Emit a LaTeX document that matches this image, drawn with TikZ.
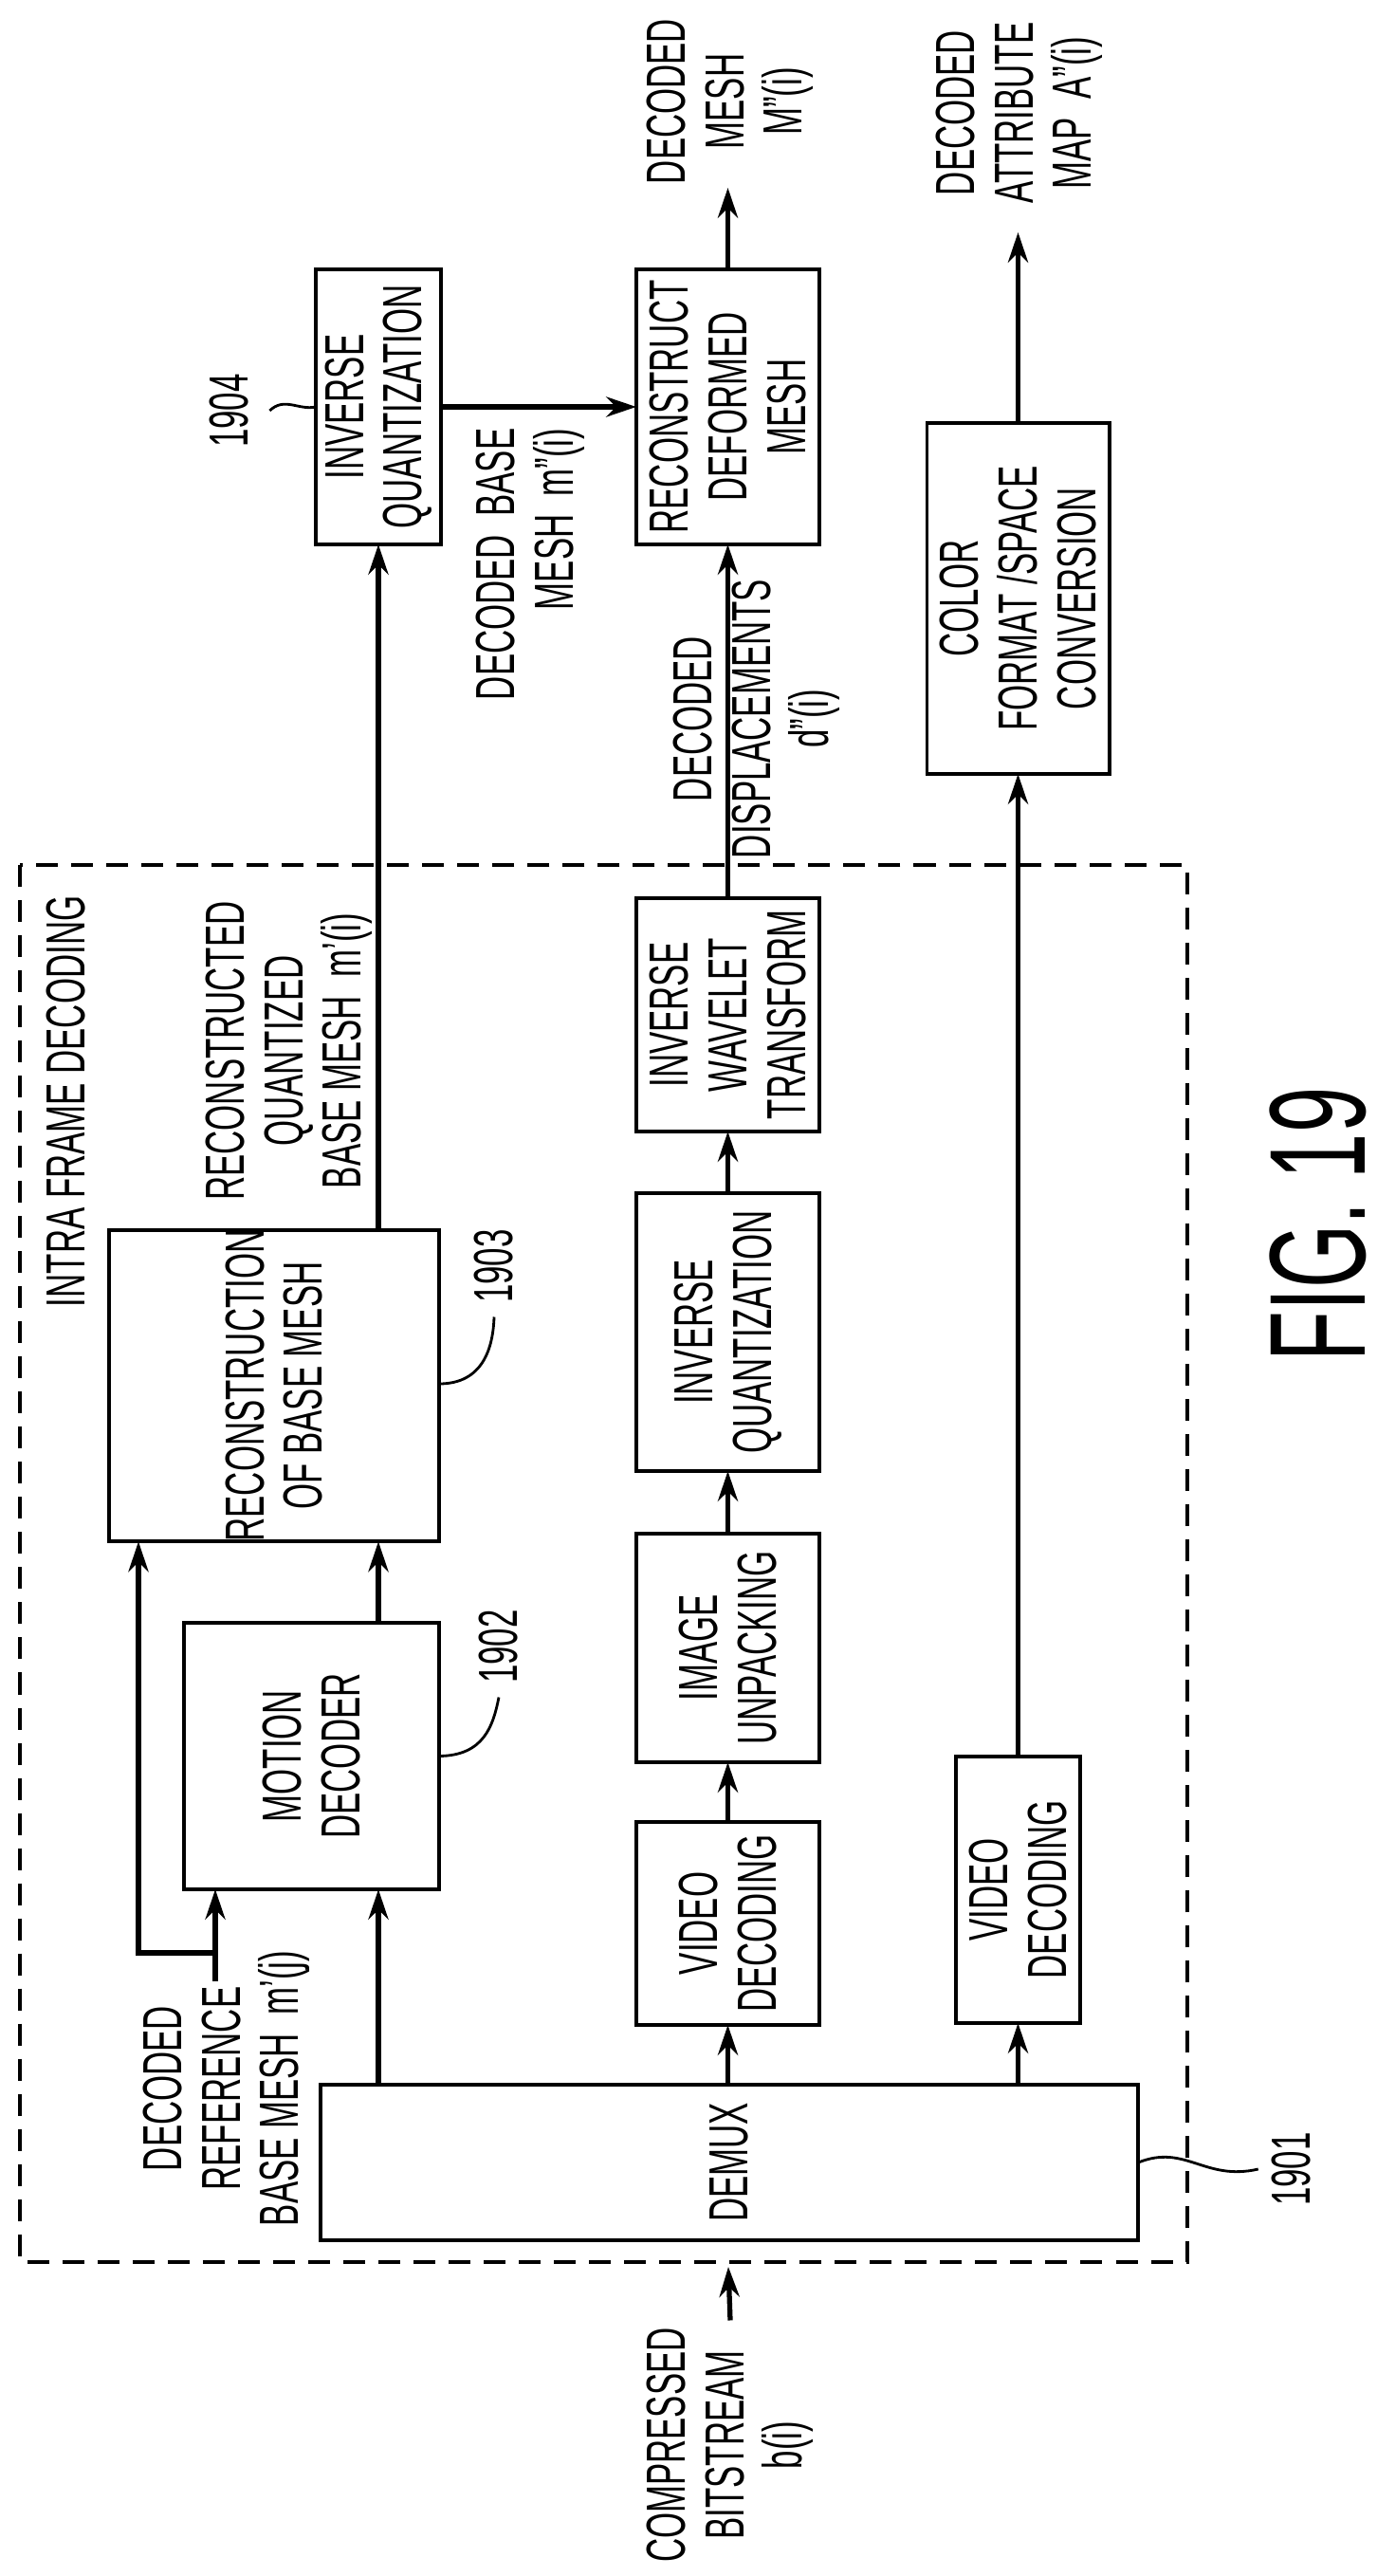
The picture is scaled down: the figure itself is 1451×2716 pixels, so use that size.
\documentclass[tikz,border=0pt]{standalone}
\usepackage{fontspec}
\setmainfont{Liberation Sans}[FakeStretch=0.6]
\usetikzlibrary{arrows.meta, positioning}
\tikzset{
  blk/.style={draw, line width=1.1pt, rotate=90, align=center, inner sep=0pt, outer sep=0pt},
  lbl/.style={rotate=90, align=center, inner sep=2pt},
  flow/.style={line width=1.5pt, -{Stealth[length=9pt,width=6pt]}},
  lead/.style={line width=0.8pt}
}
\begin{document}
\begin{tikzpicture}[x=0.01cm, y=-0.01cm, font=\fontsize{16.5}{17.5}\selectfont]
        \useasboundingbox (0,0) rectangle (1451,2716);
        \draw [line width=1pt, dash pattern=on 0.23cm off 0.14cm] (21,912) rectangle (1252,2385);
        \node [lbl, anchor=east] (intra) at (70,937) {INTRA FRAME DECODING};
        \node [blk, minimum width=1.64cm, minimum height=8.62cm] (demux) at (769,2280) {DEMUX};
        \node [blk, minimum width=2.81cm, minimum height=2.69cm] (mdec) at (328.5,1851.5) {MOTION\\DECODER};
        \node [blk, minimum width=3.26cm, minimum height=3.48cm] (rbm) at (289,1461) {RECONSTRUCTION\\OF BASE MESH};
        \node [blk, minimum width=2.90cm, minimum height=1.32cm] (iqa) at (399,429) {INVERSE\\QUANTIZATION};
        \node [blk, minimum width=2.90cm, minimum height=1.93cm] (rdm) at (767.5,429) {RECONSTRUCT\\DEFORMED\\MESH};
        \node [blk, minimum width=2.14cm, minimum height=1.93cm] (vda) at (767.5,2028) {VIDEO\\DECODING};
        \node [blk, minimum width=2.41cm, minimum height=1.93cm] (iup) at (767.5,1737.5) {IMAGE\\UNPACKING};
        \node [blk, minimum width=2.93cm, minimum height=1.93cm] (iqb) at (767.5,1404.5) {INVERSE\\QUANTIZATION};
        \node [blk, minimum width=2.46cm, minimum height=1.93cm] (iwt) at (767.5,1070) {INVERSE\\WAVELET\\TRANSFORM};
        \node [blk, minimum width=2.81cm, minimum height=1.31cm] (vdb) at (1073.5,1992.5) {VIDEO\\DECODING};
        \node [blk, minimum width=3.70cm, minimum height=1.92cm] (cfc) at (1073.5,631) {COLOR\\FORMAT /SPACE\\CONVERSION};
        \node [lbl] (bits) at (770,2578) {COMPRESSED\\BITSTREAM\\b(i)};
        \node [lbl] (refm) at (239,2202) {DECODED\\REFERENCE\\BASE MESH\ \ m'(j)};
        \node [lbl] (rqbm) at (305,1108) {RECONSTRUCTED\\QUANTIZED\\BASE MESH\ \ m'(i)};
        \node [lbl, anchor=east, align=right] (dbm) at (559,444) {DECODED\ \ BASE\\MESH\ \ m''(i)};
        \node [lbl] (ddisp) at (798,758) {DECODED\\DISPLACEMENTS\\d''(i)};
        \node [lbl] (outm) at (770,107) {DECODED\\MESH\\M''(i)};
        \node [lbl] (outa) at (1075,119) {DECODED\\ATTRIBUTE\\MAP\ \ A''(i)};
        \node [lbl, inner sep=4pt] (n1901) at (1362,2287) {1901};
        \node [lbl, inner sep=4pt] (n1902) at (526,1736) {1902};
        \node [lbl, inner sep=4pt] (n1903) at (521,1335) {1903};
        \node [lbl, inner sep=6pt] (n1904) at (242,433) {1904};
        \node [rotate=90, font=\fontsize{41}{44}\selectfont] (fig) at (1390,1291) {FIG. 19};
        \coordinate (bsend) at (768,2390);
        \coordinate (refin) at (227,2089);
        \coordinate (refk) at (227,2059);
        \coordinate (refc) at (146,2059);
        \coordinate (mtip) at (767.5,198);
        \coordinate (atip) at (1073.5,245);
        \coordinate (k1903) at (463,1459);
        \draw [flow] (bits.east) -- (bsend);
        \draw [flow] (demux.east -| iqa) -- (mdec.west -| iqa);
        \draw [flow] (mdec.east -| iqa) -- (rbm.west -| iqa);
        \draw [flow] (rbm.east -| iqa) -- (iqa.west);
        \draw [flow] (iqa.south) -- (rdm.north);
        \draw [flow] (rdm.east) -- (mtip);
        \draw [flow] (demux.east -| vda) -- (vda.west);
        \draw [flow] (vda.east) -- (iup.west);
        \draw [flow] (iup.east) -- (iqb.west);
        \draw [flow] (iqb.east) -- (iwt.west);
        \draw [flow] (iwt.east) -- (rdm.west);
        \draw [flow] (demux.east -| vdb) -- (vdb.west);
        \draw [flow] (vdb.east) -- (cfc.west);
        \draw [flow] (cfc.east) -- (atip);
        \draw [flow] (refin) -- (mdec.west -| refin);
        \draw [flow] (refk) -- (refc) -- (rbm.west -| refc);
        \draw [lead] (demux.south) .. controls (1250,2260) and (1270,2300) .. (n1901.north);
        \draw [lead] (mdec.south) .. controls (510,1851) and (520,1820) .. (n1902.west);
        \draw [lead] (k1903) .. controls (510,1459) and (520,1420) .. (n1903.west);
        \draw [lead] (n1904.south) .. controls (300,418) and (315,433) .. (iqa.north);
\end{tikzpicture}
\end{document}
